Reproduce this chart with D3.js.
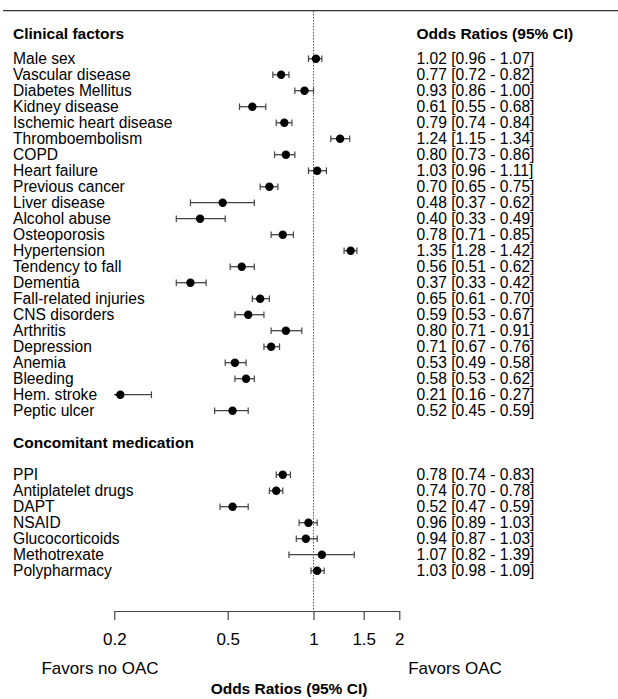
<!DOCTYPE html>
<html>
<head>
<meta charset="utf-8">
<script src="https://cdn.jsdelivr.net/npm/d3@7"></script>
<style>
  body { margin: 0; background: #fff; }
  svg text { font-family: "Liberation Sans", Arial, sans-serif; fill: #000; }
</style>
</head>
<body>
<svg id="chart" width="618" height="699"></svg>
<script>
// clinical factors
const clinicalLabels = ["Male sex", "Vascular disease", "Diabetes Mellitus", "Kidney disease",
  "Ischemic heart disease", "Thromboembolism", "COPD", "Heart failure", "Previous cancer",
  "Liver disease", "Alcohol abuse", "Osteoporosis", "Hypertension", "Tendency to fall",
  "Dementia", "Fall-related injuries", "CNS disorders", "Arthritis", "Depression", "Anemia",
  "Bleeding", "Hem. stroke", "Peptic ulcer"];
const clinicalOR = [1.02, 0.77, 0.93, 0.61, 0.79, 1.24, 0.80, 1.03, 0.70, 0.48, 0.40, 0.78, 1.35,
  0.56, 0.37, 0.65, 0.59, 0.80, 0.71, 0.53, 0.58, 0.21, 0.52];
const clinicalLo = [0.96, 0.72, 0.86, 0.55, 0.74, 1.15, 0.73, 0.96, 0.65, 0.37, 0.33, 0.71, 1.28,
  0.51, 0.33, 0.61, 0.53, 0.71, 0.67, 0.49, 0.53, 0.16, 0.45];
const clinicalHi = [1.07, 0.82, 1.00, 0.68, 0.84, 1.34, 0.86, 1.11, 0.75, 0.62, 0.49, 0.85, 1.42,
  0.62, 0.42, 0.70, 0.67, 0.91, 0.76, 0.58, 0.62, 0.27, 0.59];

// concomitant medication
const medLabels = ["PPI", "Antiplatelet drugs", "DAPT", "NSAID", "Glucocorticoids", "Methotrexate", "Polypharmacy"];
const medOR = [0.78, 0.74, 0.52, 0.96, 0.94, 1.07, 1.03];
const medLo = [0.74, 0.70, 0.47, 0.89, 0.87, 0.82, 0.98];
const medHi = [0.83, 0.78, 0.59, 1.03, 1.03, 1.39, 1.09];

const tickValues = [0.2, 0.5, 1, 1.5, 2];

// build rows: index is the row slot (16px each)
const rows = [];
clinicalLabels.forEach((l, i) => rows.push({ label: l, or: clinicalOR[i], lo: clinicalLo[i], hi: clinicalHi[i], idx: i }));
medLabels.forEach((l, i) => rows.push({ label: l, or: medOR[i], lo: medLo[i], hi: medHi[i], idx: 26 + i }));

const headers = [{ label: "Clinical factors", idx: -1.6 }, { label: "Concomitant medication", idx: 24 }];

const svg = d3.select("#chart");

const x = d3.scaleLog().domain([0.2, 2]).range([114.3, 399.3]);
const y = d3.scaleLinear().domain([0, 1]).range([58.7, 74.7]);
const axisY = 611;

const fmt = d3.format(".2f");

// top rule
svg.append("line")
  .attr("x1", 3).attr("x2", 618)
  .attr("y1", 10.7).attr("y2", 10.7)
  .attr("stroke", "#333").attr("stroke-width", 1.3);

// reference line at 1
svg.append("line")
  .attr("x1", x(1)).attr("x2", x(1))
  .attr("y1", 11).attr("y2", axisY)
  .attr("stroke", "#555").attr("stroke-width", 1)
  .attr("stroke-dasharray", "1.5,1.5");

// headers
svg.selectAll(".hdr").data(headers).enter().append("text")
  .attr("x", 13).attr("y", d => y(d.idx)).attr("dy", "0.35em")
  .style("font-size", "15.5px").style("font-weight", "bold")
  .text(d => d.label);

svg.append("text")
  .attr("x", 416.5).attr("y", y(-1.6)).attr("dy", "0.35em")
  .style("font-size", "15.5px").style("font-weight", "bold")
  .text("Odds Ratios (95% CI)");

// labels
svg.selectAll(".lab").data(rows).enter().append("text")
  .attr("x", 13).attr("y", d => y(d.idx)).attr("dy", "0.35em")
  .style("font-size", "15.6px")
  .text(d => d.label);

// values text
svg.selectAll(".val").data(rows).enter().append("text")
  .attr("x", 416.5).attr("y", d => y(d.idx)).attr("dy", "0.35em")
  .style("font-size", "15.6px")
  .text(d => `${fmt(d.or)} [${fmt(d.lo)} - ${fmt(d.hi)}]`);

// CI lines
const g = svg.append("g");
const lo = d => Math.max(d.lo, 0.2);

g.selectAll(".ci").data(rows).enter().append("line")
  .attr("x1", d => x(lo(d))).attr("x2", d => x(d.hi))
  .attr("y1", d => y(d.idx)).attr("y2", d => y(d.idx))
  .attr("stroke", "#444").attr("stroke-width", 1.3);

// caps
g.selectAll(".capL").data(rows.filter(d => d.lo >= 0.2)).enter().append("line")
  .attr("x1", d => x(d.lo)).attr("x2", d => x(d.lo))
  .attr("y1", d => y(d.idx) - 3.3).attr("y2", d => y(d.idx) + 3.3)
  .attr("stroke", "#444").attr("stroke-width", 1.2);
g.selectAll(".capR").data(rows).enter().append("line")
  .attr("x1", d => x(d.hi)).attr("x2", d => x(d.hi))
  .attr("y1", d => y(d.idx) - 3.3).attr("y2", d => y(d.idx) + 3.3)
  .attr("stroke", "#444").attr("stroke-width", 1.2);

// arrows for clipped intervals
g.selectAll(".arrow").data(rows.filter(d => d.lo < 0.2)).enter().append("path")
  .attr("d", d => {
    const x0 = x(0.2), yy = y(d.idx);
    return `M${x0},${yy}L${x0 + 7},${yy - 3.5}L${x0 + 7},${yy + 3.5}Z`;
  })
  .attr("fill", "#000");

// points
g.selectAll(".pt").data(rows).enter().append("circle")
  .attr("cx", d => x(d.or)).attr("cy", d => y(d.idx))
  .attr("r", 4.2).attr("fill", "#000");

// x axis
const axis = d3.axisBottom(x)
  .tickValues(tickValues)
  .tickSize(9).tickSizeOuter(0).tickPadding(13)
  .tickFormat(d => d);

const ax = svg.append("g").attr("transform", `translate(0,${axisY})`).call(axis);
ax.selectAll("path, line").attr("stroke", "#444").attr("stroke-width", 1.2);
ax.selectAll("text").style("font-size", "17px").style("font-family", "Liberation Sans, Arial, sans-serif").attr("fill", "#000");

// favors labels
svg.append("text")
  .attr("x", 100).attr("y", 668).attr("dy", "0.35em")
  .attr("text-anchor", "middle").style("font-size", "17px")
  .text("Favors no OAC");
svg.append("text")
  .attr("x", 455).attr("y", 668).attr("dy", "0.35em")
  .attr("text-anchor", "middle").style("font-size", "17px")
  .text("Favors OAC");

svg.append("text")
  .attr("x", 289).attr("y", 689).attr("dy", "0.35em")
  .attr("text-anchor", "middle").style("font-size", "15.5px").style("font-weight", "bold")
  .text("Odds Ratios (95% CI)");
</script>
</body>
</html>
